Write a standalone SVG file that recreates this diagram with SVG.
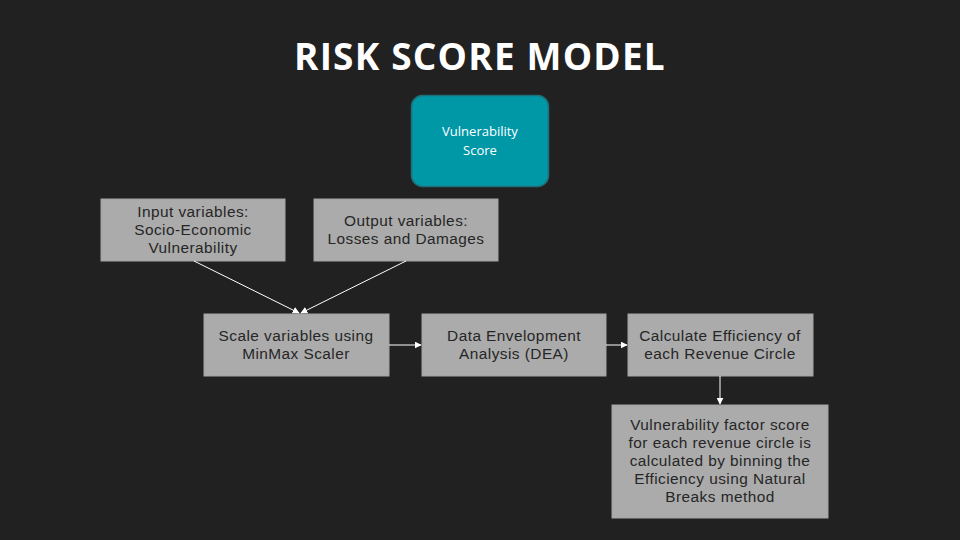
<svg xmlns="http://www.w3.org/2000/svg" width="960" height="540" viewBox="0 0 960 540">
<style>
.box{fill:#ababab;stroke:#a3a3a3;stroke-width:1}
.t{font-family:"Liberation Sans",Arial,sans-serif;font-size:15.4px;letter-spacing:0.45px;fill:#262626;text-anchor:middle}
.c{stroke:#ffffff;stroke-width:1;fill:none}
</style>
<defs>
<marker id="ah" viewBox="0 0 10 10" refX="9" refY="5" markerWidth="7" markerHeight="7" orient="auto" markerUnits="userSpaceOnUse">
<path d="M0,0 L10,5 L0,10 z" fill="#ffffff"/>
</marker>
</defs>
<rect width="960" height="540" fill="#212121"/>
<text x="480" y="70" text-anchor="middle" font-family="'Open Sans','Liberation Sans',sans-serif" font-weight="bold" font-size="37" letter-spacing="1.2" fill="#ffffff">RISK SCORE MODEL</text>
<g id="vulnerability">
<rect x="411.5" y="95.5" width="137" height="91" rx="11" fill="#0097a7" stroke="#1e6f78" stroke-width="1.5"/>
<text x="480" y="136" text-anchor="middle" font-family="'Open Sans','Liberation Sans',sans-serif" font-size="13" fill="#ffffff">Vulnerability</text>
<text x="480" y="155" text-anchor="middle" font-family="'Open Sans','Liberation Sans',sans-serif" font-size="13" fill="#ffffff">Score</text>
</g>
<g id="input">
<rect class="box" x="101" y="199" width="184" height="62"/>
<text class="t" x="193" y="217">Input variables:</text>
<text class="t" x="193" y="235">Socio-Economic</text>
<text class="t" x="193" y="253">Vulnerability</text>
</g>
<g id="output">
<rect class="box" x="314" y="199" width="184" height="62"/>
<text class="t" x="406" y="226">Output variables:</text>
<text class="t" x="406" y="244">Losses and Damages</text>
</g>
<g id="scale">
<rect class="box" x="204" y="314" width="185" height="62"/>
<text class="t" x="296" y="341">Scale variables using</text>
<text class="t" x="296" y="359">MinMax Scaler</text>
</g>
<g id="dea">
<rect class="box" x="422" y="314" width="184" height="62"/>
<text class="t" x="514" y="341">Data Envelopment</text>
<text class="t" x="514" y="359">Analysis (DEA)</text>
</g>
<g id="calc">
<rect class="box" x="628" y="314" width="185" height="62"/>
<text class="t" x="720" y="341">Calculate Efficiency of</text>
<text class="t" x="720" y="359">each Revenue Circle</text>
</g>
<g id="final">
<rect class="box" x="612" y="405" width="216" height="113"/>
<text class="t" x="720" y="430">Vulnerability factor score</text>
<text class="t" x="720" y="448">for each revenue circle is</text>
<text class="t" x="720" y="466">calculated by binning the</text>
<text class="t" x="720" y="484">Efficiency using Natural</text>
<text class="t" x="720" y="502">Breaks method</text>
</g>
<g id="connectors">
<line class="c" x1="194" y1="261" x2="299" y2="313" marker-end="url(#ah)"/>
<line class="c" x1="406" y1="261" x2="301" y2="313" marker-end="url(#ah)"/>
<line class="c" x1="389" y1="345" x2="421" y2="345" marker-end="url(#ah)"/>
<line class="c" x1="606" y1="345" x2="627" y2="345" marker-end="url(#ah)"/>
<line class="c" x1="720" y1="376" x2="720" y2="404" marker-end="url(#ah)"/>
</g>
</svg>
